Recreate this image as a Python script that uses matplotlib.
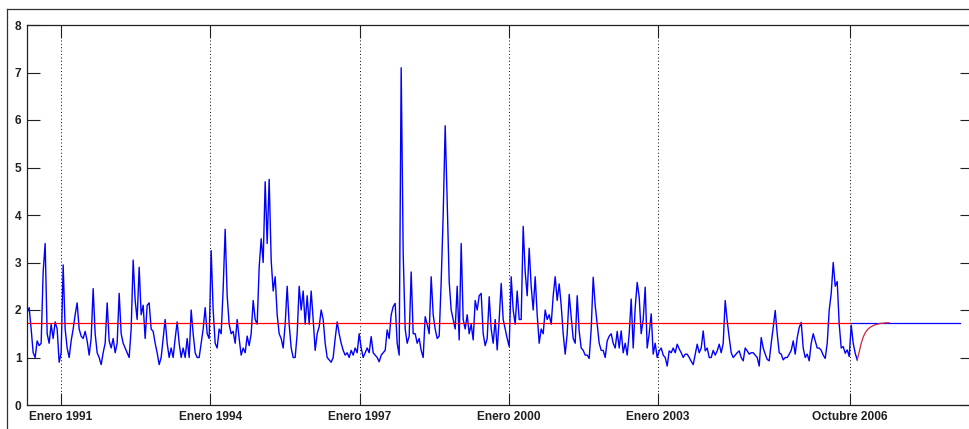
import numpy as np
import matplotlib.pyplot as plt
from matplotlib.lines import Line2D

# volatilidad estimada, una observacion cada ~10 dias habiles
vol = [
    1.95, 2.05, 1.6, 1.1, 1.0, 1.35, 1.25, 1.3, 2.8, 3.4,
    1.5, 1.3, 1.7, 1.4, 1.75, 1.6, 0.9, 1.1, 2.95, 1.6,
    1.2, 1.0, 1.35, 1.6, 1.9, 2.15, 1.6, 1.45, 1.4, 1.55,
    1.35, 1.05, 1.4, 2.45, 1.5, 1.1, 1.0, 0.85, 1.1, 1.3,
    2.15, 1.35, 1.2, 1.4, 1.1, 1.3, 2.35, 1.5, 1.3, 1.2,
    1.1, 1.0, 1.6, 3.05, 2.2, 1.8, 2.9, 1.9, 2.1, 1.4,
    2.1, 2.15, 1.6, 1.55, 1.3, 1.1, 0.85, 1.0, 1.4, 1.8,
    1.3, 1.0, 1.2, 1.0, 1.4, 1.75, 1.3, 1.0, 1.2, 1.0,
    1.4, 1.0, 2.0, 1.5, 1.1, 1.0, 1.0, 1.3, 1.6, 2.05,
    1.5, 1.4, 3.25, 2.0, 1.3, 1.2, 1.6, 1.5, 2.45, 3.7,
    2.3, 1.7, 1.5, 1.55, 1.3, 1.8, 1.4, 1.05, 1.2, 1.1,
    1.45, 1.25, 1.5, 2.2, 1.8, 1.7, 2.9, 3.5, 3.0, 4.7,
    3.4, 4.75, 3.05, 2.4, 2.7, 1.9, 1.5, 1.4, 1.2, 1.7,
    2.5, 1.7, 1.2, 1.0, 1.0, 1.5, 2.5, 2.0, 2.4, 1.7,
    2.3, 1.7, 2.4, 1.8, 1.15, 1.5, 1.65, 2.0, 1.8, 1.3,
    1.0, 0.95, 0.9, 1.0, 1.4, 1.75, 1.5, 1.3, 1.15, 1.05,
    1.1, 1.0, 1.15, 1.05, 1.2, 1.1, 1.5, 1.2, 1.0, 1.1,
    1.2, 1.1, 1.44, 1.1, 1.05, 1.0, 0.91, 1.05, 1.1, 1.15,
    1.58, 1.4, 1.9, 2.07, 2.14, 1.3, 1.05, 7.1, 3.2, 1.6,
    1.3, 1.45, 2.8, 1.5, 1.5, 1.3, 1.4, 1.15, 1.0, 1.86,
    1.7, 1.5, 2.7, 1.9, 1.6, 1.4, 1.45, 2.6, 4.0, 5.88,
    4.3, 2.6, 2.0, 1.8, 1.6, 2.5, 1.37, 3.4, 1.8, 1.6,
    1.9, 1.5, 1.7, 1.37, 2.2, 2.0, 2.3, 2.35, 1.5, 1.25,
    1.4, 2.28, 1.6, 1.3, 1.8, 1.16, 1.8, 2.56, 1.8, 1.6,
    1.4, 1.23, 2.7, 2.0, 1.7, 2.4, 1.8, 1.8, 3.76, 2.8,
    2.3, 3.3, 2.5, 2.0, 2.7, 1.9, 1.3, 1.6, 1.5, 2.0,
    1.8, 1.9, 1.7, 2.3, 2.7, 2.2, 2.55, 2.1, 1.5, 1.07,
    1.5, 2.33, 1.85, 1.4, 1.3, 2.3, 1.55, 1.2, 1.15, 1.05,
    1.05, 0.98, 1.6, 2.69, 2.1, 1.7, 1.3, 1.15, 1.15, 1.0,
    1.35, 1.45, 1.5, 1.3, 1.2, 1.55, 1.2, 1.56, 1.1, 1.3,
    1.05, 1.5, 2.23, 1.2, 2.05, 2.58, 2.27, 1.5, 1.8, 2.48,
    1.2, 1.5, 1.92, 1.07, 1.3, 1.0, 1.14, 1.2, 1.05, 1.0,
    0.82, 1.14, 1.1, 1.2, 1.1, 1.28, 1.18, 1.1, 1.0, 1.07,
    1.07, 1.0, 0.92, 0.85, 1.07, 1.28, 1.1, 1.2, 1.56, 1.14,
    1.2, 1.0, 1.0, 1.15, 1.05, 1.14, 1.28, 1.1, 1.3, 2.2,
    1.77, 1.42, 1.1, 1.0, 1.05, 1.1, 1.14, 1.0, 0.93, 1.2,
    1.14, 1.07, 1.1, 1.1, 1.05, 1.0, 0.82, 1.42, 1.2, 1.07,
    0.96, 0.93, 1.3, 1.63, 1.99, 1.5, 1.1, 1.07, 0.95, 1.0,
    1.0, 1.07, 1.15, 1.35, 1.07, 1.42, 1.63, 1.74, 1.2, 1.0,
    1.07, 0.93, 1.3, 1.5, 1.35, 1.2, 1.2, 1.15, 1.05, 0.98,
    1.3, 2.0, 2.35, 3.0, 2.5, 2.6, 1.7, 1.2, 1.23, 1.09,
    1.16, 1.02, 1.68, 1.3, 1.09, 0.95,
]

# pronostico fuera de muestra (vuelve al nivel de largo plazo)
forecast = [0.95, 1.12, 1.3, 1.43, 1.52, 1.58, 1.62, 1.65, 1.67,
            1.69, 1.70, 1.71, 1.72, 1.72, 1.73, 1.73, 1.73]
long_run = 1.72

t0 = 1990.32
step = 0.0402
tick_years = [1991, 1994, 1997, 2000, 2003, 2006.86]
tick_labels = ['Enero 1991', 'Enero 1994', 'Enero 1997',
               'Enero 2000', 'Enero 2003', 'Octubre 2006']
t_cut = tick_years[-1]
horizon_end = 2009.07

t = t0 + step * np.arange(len(vol))
tf = t[-1] + step * np.arange(len(forecast))

fig = plt.figure(figsize=(9.7, 4.29), dpi=100)
fig.patch.set_facecolor('white')
ax = fig.add_axes([27/970, 24/429, 945/970, 380/429])

ax.plot(t, vol, color='#0000ff', lw=1.0)
ax.plot([t_cut, horizon_end], [long_run, long_run], color='#0000ff', lw=0.9)
ax.plot([t0, t_cut], [long_run, long_run], color='#ff0000', lw=0.9)
ax.plot(tf, forecast, color='#cc2244', lw=0.9)

ax.set_xlim(1990.317, 2009.31)
ax.set_ylim(0, 8)
ax.set_xticks(tick_years)
ax.set_xticklabels(tick_labels)
ax.set_yticks(range(0, 9))
ax.tick_params(direction='in', length=9, width=0.8, top=True, right=True,
               colors='#202020', pad=4)
for lab in ax.get_xticklabels() + ax.get_yticklabels():
    lab.set_fontfamily('Liberation Sans')
    lab.set_fontweight('bold')
    lab.set_fontsize(8.6)
ax.grid(axis='x', linestyle=(0, (1, 2.5)), color='black', lw=0.7)
for s in ax.spines.values():
    s.set_color('#202020')
    s.set_linewidth(0.9)

# marco de la ventana
yb = 1 - 9/429
fig.add_artist(Line2D([7/970, 7/970], [0, yb], color='#303030', lw=0.9))
fig.add_artist(Line2D([7/970, 1], [yb, yb], color='#303030', lw=0.9))

fig.savefig('out.png', dpi=100)
